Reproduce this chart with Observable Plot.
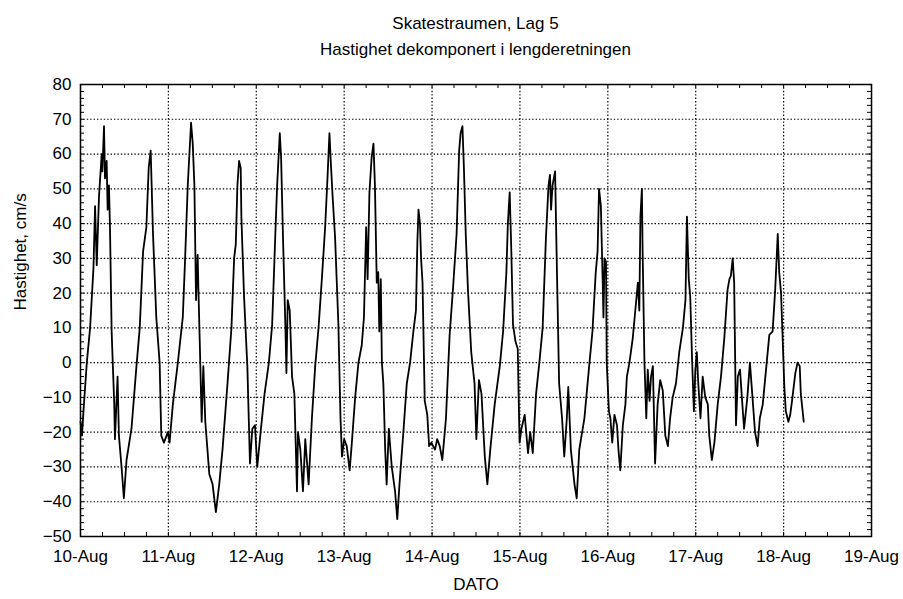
<!DOCTYPE html>
<html><head><meta charset="utf-8">
<script src="https://cdn.jsdelivr.net/npm/d3@7"></script>
<script src="https://cdn.jsdelivr.net/npm/@observablehq/plot@0.6"></script>
<style>
body{margin:0;background:#fff;font-family:"Liberation Sans",Arial,sans-serif;color:#000;}
#head{width:903px;height:61px;padding:11px 32px 0 80px;box-sizing:border-box;text-align:center;font-size:17px;line-height:26px;}
</style></head><body>
<div id="head"><div>Skatestraumen, Lag 5</div><div>Hastighet dekomponert i lengderetningen</div></div>
<div id="chart"></div>
<script>
// hours after 10-Aug 00:00
const hours = [
0.0,0.4,0.81,1.72,2.62,3.53,3.98,4.43,5.06,5.79,5.97,6.42,6.69,7.14,7.41,7.77,8.05,8.5,9.22,9.4,10.12,10.49,11.21,11.84,12.57,13.92,15.28,16.18,17.09,17.99,18.62,19.16,19.8,20.7,21.61,22.06,22.78,23.87,24.32,25.22,26.58,27.93,28.57,29.29,30.19,30.65,31.1,31.55,32.0,32.18,32.73,33.09,33.54,34.08,35.17,36.07,36.97,37.88,38.78,40.14,41.22,41.95,42.4,42.85,43.3,43.75,43.93,44.66,45.56,46.28,46.92,47.64,48.27,49.18,50.26,51.44,52.34,53.24,53.7,54.42,54.78,55.32,55.96,56.23,56.59,57.13,57.77,58.4,59.12,59.39,60.03,60.75,61.38,62.29,63.19,64.09,65.0,65.9,66.81,67.44,67.98,68.43,68.89,69.52,70.42,71.0,71.4,
72.0,72.7,73.5,74.1,75.0,75.9,76.8,77.4,78.0,78.4,78.9,79.5,80.0,80.4,80.9,81.3,81.6,82.0,82.3,82.7,83.2,83.6,84.2,85.0,85.9,86.5,87.1,88.1,89.1,90.0,90.9,91.6,92.0,92.3,92.7,93.0,93.4,94.0,94.7,95.2,95.8,96.8,97.4,98.1,98.8,99.8,100.8,101.7,102.7,103.4,103.8,104.3,104.7,105.2,105.8,106.7,107.6,108.1,108.8,109.5,110.4,111.1,111.9,113.1,114.5,115.4,116.3,116.7,117.2,117.6,118.1,118.8,119.4,119.9,120.4,121.3,122.2,122.8,123.5,124.4,125.3,126.2,127.1,127.8,128.2,128.5,128.9,129.6,130.0,130.7,131.5,132.1,132.8,133.2,133.9,134.9,135.5,136.2,137.6,138.9,139.8,140.7,141.2,141.6,142.1,142.6,142.8,143.1,143.5,143.7,
144.3,144.7,145.2,145.8,146.5,146.9,147.4,148.1,148.8,149.2,149.9,150.8,151.5,152.2,152.6,152.9,153.3,153.5,154.0,154.5,154.9,155.4,155.8,156.3,156.9,157.6,158.3,159.0,159.7,160.4,161.0,161.7,162.6,163.5,164.5,165.2,165.6,166.1,166.5,167.0,167.5,167.9,168.3,168.7,169.3,169.9,170.6,171.3,171.7,172.4,173.1,174.0,174.9,175.8,176.7,177.2,177.6,178.1,178.5,179.0,179.5,180.1,180.6,181.2,182.1,182.8,183.5,184.2,184.9,185.5,186.3,187.2,188.1,189.0,189.7,190.4,190.8,191.3,191.8,192.2,192.6,193.3,193.8,194.3,195.2,195.8,196.4,196.7,197.1,197.5
];
// velocity, cm/s
const velocity = [
-17,-21,-14,0,10,27,45,28,48,60,55,68,53,58,44,51,39,9,-12,-22,-4,-21,-30,-39,-28,-19,-1,10,32,39,56,61,37,13,0,-21,-23,-20,-23,-12,0,13,30,51,69,63,51,18,31,22,-1,-17,-1,-17,-32,-35,-43,-35,-25,-6,10,30,34,51,58,56,42,19,-1,-29,-19,-18,-30,-20,-9,0,11,38,51,66,59,35,10,-3,18,15,-4,-9,-37,-20,-25,-37,-22,-35,-16,-1,10,24,39,53,66,56,47,36,11,-16,-27,
-22,-24,-31,-23,-10,0,5,13,39,24,49,59,63,51,23,26,9,24,0,-6,-25,-35,-19,-30,-37,-45,-35,-21,-6,0,9,15,35,44,40,30,23,-11,-15,-24,-23,-25,-22,-24,-28,-16,8,21,37,61,66,68,56,37,21,3,-6,-22,-5,-9,-27,-35,-25,-12,-1,9,26,40,49,34,11,6,4,-23,-19,-15,-26,-20,-26,-9,0,10,36,51,54,44,51,55,32,-6,-16,-27,-16,-7,-25,-35,-39,-25,-16,-1,9,26,32,50,45,23,13,30,29,0,
-14,-16,-23,-15,-18,-25,-31,-18,-12,-4,0,7,15,23,15,42,50,32,0,-16,-2,-11,-4,-1,-29,-12,-5,-8,-21,-24,-16,-10,-6,3,10,18,42,24,19,1,-14,-2,3,-6,-16,-4,-10,-12,-21,-28,-23,-12,-4,7,21,24,25,30,23,-18,-4,-2,-10,-19,-10,0,-10,-20,-24,-16,-12,-2,8,9,21,37,26,20,5,-7,-14,-17,-15,-11,-3,0,-1,-9,-13,-17
];
const dayNumbers = [10,11,12,13,14,15,16,17,18,19];
const yTicks = [-50,-40,-30,-20,-10,0,10,20,30,40,50,60,70,80];
const xLabel = "DATO";
const yLabel = "Hastighet, cm/s";

const base = Date.UTC(2000, 7, 10);
const data = hours.map((h, i) => ({t: new Date(base + h * 3600e3), v: velocity[i]}));
const days = dayNumbers.map(d => new Date(Date.UTC(2000, 7, d)));
const start = days[0], end = days[days.length - 1];
const minorX = d3.utcHour.every(6).range(start, end);
const minorY = d3.range(-50, 81, 2);
const fmt = d3.utcFormat("%d-%b");

const W = 903, H = 538, mT = 23, mB = 63, mL = 80, mR = 32;
const fw = W - mL - mR, fh = H - mT - mB;
const grid = {stroke: "black", strokeOpacity: 1, strokeWidth: 1.2, strokeDasharray: "1.4,2"};

const chart = Plot.plot({
  width: W, height: H,
  marginTop: mT, marginBottom: mB, marginLeft: mL, marginRight: mR,
  style: {fontFamily: "'Liberation Sans', Arial, sans-serif", fontSize: "17px", background: "white", color: "black"},
  x: {type: "utc", domain: [start, end]},
  y: {domain: [-50, 80]},
  marks: [
    Plot.gridX(days, grid),
    Plot.gridY(yTicks, grid),
    Plot.tickX(minorX, {x: d => d, insetTop: fh - 4, stroke: "black", strokeWidth: 1}),
    Plot.tickX(minorX, {x: d => d, insetBottom: fh - 4, stroke: "black", strokeWidth: 1}),
    Plot.tickY(minorY, {y: d => d, insetRight: fw - 4, stroke: "black", strokeWidth: 1}),
    Plot.tickY(minorY, {y: d => d, insetLeft: fw - 4, stroke: "black", strokeWidth: 1}),
    Plot.axisX(days, {anchor: "bottom", tickSize: 0, tickPadding: 13, tickFormat: fmt, label: null, fontSize: 17}),
    Plot.axisY(yTicks, {anchor: "left", tickSize: 0, tickPadding: 9, label: null, fontSize: 17}),
    Plot.line(data, {x: "t", y: "v", stroke: "black", strokeWidth: 1.8}),
    Plot.frame({stroke: "black", strokeWidth: 1.5}),
    Plot.text([yLabel], {text: d => d, frameAnchor: "left", rotate: -90, dx: -60, fontSize: 17}),
    Plot.text([xLabel], {text: d => d, frameAnchor: "bottom", dy: 53, fontSize: 17})
  ]
});
document.getElementById("chart").appendChild(chart);
</script>
</body></html>
